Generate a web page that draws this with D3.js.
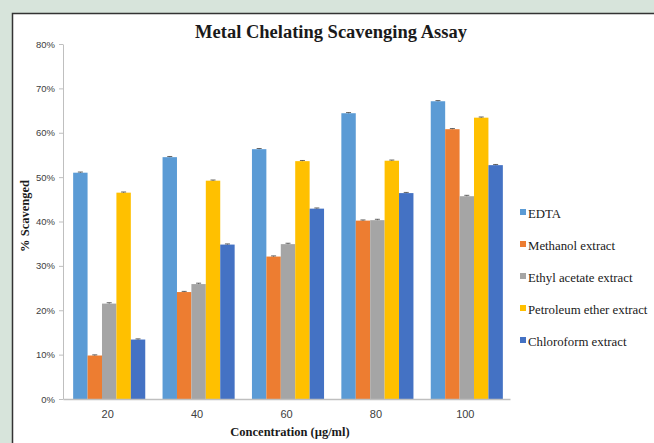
<!DOCTYPE html>
<html>
<head>
<meta charset="utf-8">
<script src="https://cdn.jsdelivr.net/npm/d3@7"></script>
<style>
  body { margin: 0; background: #d7e4db; }
  svg { display: block; }
</style>
</head>
<body>
<div class="chart"></div>
<script>
const concentrations = ["20", "40", "60", "80", "100"];
const seriesNames = ["EDTA", "Methanol extract", "Ethyl acetate extract", "Petroleum ether extract", "Chloroform extract"];
const edta = [51.0, 54.5, 56.3, 64.4, 67.1];
const methanol = [9.8, 24.1, 32.1, 40.2, 60.8];
const ethylAcetate = [21.5, 25.9, 34.9, 40.3, 45.7];
const petroleumEther = [46.5, 49.2, 53.6, 53.7, 63.4];
const chloroform = [13.4, 34.8, 42.9, 46.4, 52.7];
const errors = [0.15, 0.15, 0.2, 0.15, 0.15];
const yTicks = [0, 10, 20, 30, 40, 50, 60, 70, 80];
const colors = ["#5b9bd5", "#ed7d31", "#a5a5a5", "#ffc000", "#4472c4"];

const allSeries = [edta, methanol, ethylAcetate, petroleumEther, chloroform];

const w = 654, h = 443;
const padL = 63, padR = 510, padT = 44, padB = 399;

const svg = d3.select(".chart").append("svg")
    .attr("width", w)
    .attr("height", h);

// white panel with dark frame
svg.append("rect")
    .attr("x", 12.5).attr("y", 13.5)
    .attr("width", w).attr("height", h)
    .attr("fill", "#fff")
    .attr("stroke", "#333")
    .attr("stroke-width", 1.5);

const x = d3.scaleBand().domain(concentrations).range([padL, padR]).paddingInner(0).paddingOuter(0);
const xInner = d3.scaleBand().domain(seriesNames).range([0, x.bandwidth()]).paddingOuter(0.6).paddingInner(0);
const y = d3.scaleLinear().domain([0, 80]).range([padB, padT]);

// bars
const rows = [];
concentrations.forEach((c, i) => {
  seriesNames.forEach((s, j) => {
    rows.push({ c: c, s: s, v: allSeries[j][i], e: errors[j], color: colors[j] });
  });
});

svg.append("g").selectAll("rect")
    .data(rows)
    .enter()
    .append("rect")
    .attr("x", d => x(d.c) + xInner(d.s) + 1.5)
    .attr("y", d => y(d.v))
    .attr("width", xInner.bandwidth())
    .attr("height", d => y(0) - y(d.v))
    .attr("fill", d => d.color);

// error bars
const eb = svg.append("g").attr("stroke", "#444").attr("stroke-width", 0.8);
rows.forEach(d => {
  const cx = x(d.c) + xInner(d.s) + 1.5 + xInner.bandwidth() / 2;
  eb.append("line").attr("x1", cx).attr("x2", cx).attr("y1", y(d.v + d.e)).attr("y2", y(d.v));
  eb.append("line").attr("x1", cx - 2.5).attr("x2", cx + 2.5).attr("y1", y(d.v + d.e)).attr("y2", y(d.v + d.e));
});

// y axis
const yAxis = svg.append("g")
    .attr("transform", `translate(${padL},0)`)
    .call(d3.axisLeft(y).tickValues(yTicks).tickFormat(d => d + "%").tickSize(4).tickSizeOuter(0));
yAxis.select(".domain").attr("stroke", "#bfbfbf");
yAxis.selectAll(".tick line").attr("stroke", "#bfbfbf");
yAxis.selectAll("text")
    .attr("font-family", "Liberation Sans, Arial, sans-serif")
    .attr("font-size", 9.5)
    .attr("fill", "#404040")
    .attr("x", -8);

// x axis
const xAxis = svg.append("g")
    .attr("transform", `translate(0,${padB})`)
    .call(d3.axisBottom(x).tickSize(0).tickSizeOuter(0));
xAxis.select(".domain").attr("stroke", "#bfbfbf").attr("stroke-width", 1.5);
xAxis.selectAll("text")
    .attr("font-family", "Liberation Sans, Arial, sans-serif")
    .attr("font-size", 11)
    .attr("fill", "#404040")
    .attr("dy", "1.45em");

// title
svg.append("text")
    .attr("x", 331).attr("y", 38)
    .attr("text-anchor", "middle")
    .attr("font-family", "Liberation Serif, Times New Roman, serif")
    .attr("font-weight", "bold")
    .attr("font-size", 18.5)
    .attr("fill", "#1a1a1a")
    .text("Metal Chelating Scavenging Assay");

// axis titles
svg.append("text")
    .attr("transform", "translate(29,216) rotate(-90)")
    .attr("text-anchor", "middle")
    .attr("font-family", "Liberation Serif, Times New Roman, serif")
    .attr("font-weight", "bold")
    .attr("font-size", 12.5)
    .attr("fill", "#1a1a1a")
    .text("% Scavenged");

svg.append("text")
    .attr("x", 290).attr("y", 436)
    .attr("text-anchor", "middle")
    .attr("font-family", "Liberation Serif, Times New Roman, serif")
    .attr("font-weight", "bold")
    .attr("font-size", 12.5)
    .attr("fill", "#1a1a1a")
    .text("Concentration (µg/ml)");

// legend
const legend = svg.append("g")
    .selectAll("g")
    .data(seriesNames)
    .enter()
    .append("g")
    .attr("transform", (d, i) => `translate(520,${214 + i * 32})`);
legend.append("rect")
    .attr("x", 0).attr("y", -5)
    .attr("width", 6).attr("height", 6)
    .attr("fill", (d, i) => colors[i]);
legend.append("text")
    .attr("x", 8).attr("y", 0)
    .attr("dy", "0.35em")
    .attr("font-family", "Liberation Serif, Times New Roman, serif")
    .attr("font-size", 12.8)
    .attr("fill", "#1a1a1a")
    .text(d => d);
</script>
</body>
</html>
